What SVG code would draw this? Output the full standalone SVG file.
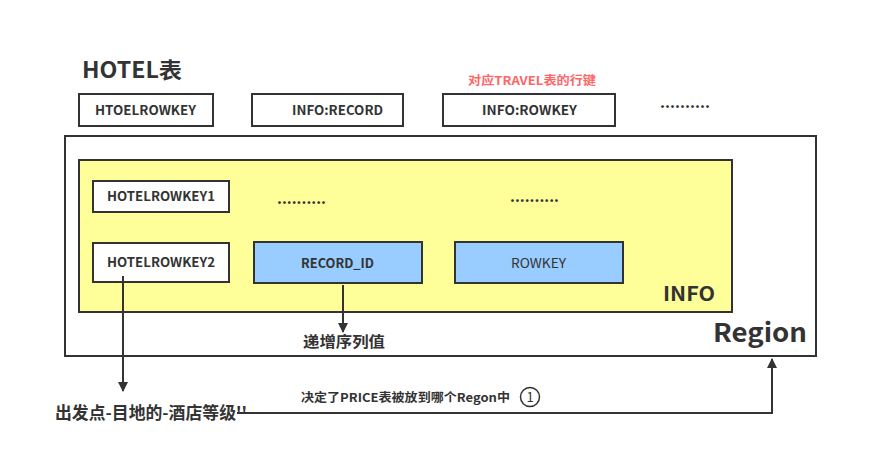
<svg xmlns="http://www.w3.org/2000/svg" width="872" height="457" viewBox="0 0 872 457">
  <defs>
    <style>
      .box { fill: #ffffff; stroke: #333333; stroke-width: 2; }
      .blue { fill: #99ccff; stroke: #333333; stroke-width: 2; }
      .yellow { fill: #ffff99; stroke: #333333; stroke-width: 2; }
      .t { font-family: "Noto Sans CJK SC", "Liberation Sans", sans-serif; fill: #333333; font-weight: bold; }
      .lbl { font-size: 13px; }
      .dots { font-size: 15px; letter-spacing: 0; }
      .edge { fill: none; stroke: #333333; stroke-width: 2; }
    </style>
    <marker id="arrow" viewBox="0 0 10 10" refX="9" refY="5" markerWidth="5" markerHeight="6" orient="auto">
      <path d="M0,0 L10,5 L0,10 z" fill="#333333"/>
    </marker>
  </defs>
  <rect width="872" height="457" fill="#ffffff"/>

  <text class="t" x="82" y="78" font-size="22" textLength="100" lengthAdjust="spacingAndGlyphs">HOTEL表</text>

  <g id="col-rowkey">
    <rect class="box" x="79" y="94" width="134" height="32"/>
    <text class="t lbl" x="95" y="115" textLength="101" lengthAdjust="spacingAndGlyphs">HTOELROWKEY</text>
  </g>
  <g id="col-record">
    <rect class="box" x="252" y="94" width="151" height="32"/>
    <text class="t lbl" x="292" y="115" textLength="91" lengthAdjust="spacingAndGlyphs">INFO:RECORD</text>
  </g>
  <g id="col-info-rowkey">
    <text class="t" x="468" y="85" font-size="12" textLength="128" lengthAdjust="spacingAndGlyphs" style="fill:#ff6666">对应TRAVEL表的行键</text>
    <rect class="box" x="443" y="94" width="172" height="32"/>
    <text class="t lbl" x="482" y="115" textLength="95" lengthAdjust="spacingAndGlyphs">INFO:ROWKEY</text>
  </g>
  <g id="col-more">
    <text class="t dots" x="660" y="108" textLength="50" lengthAdjust="spacingAndGlyphs">..........</text>
  </g>

  <g id="region">
    <rect class="box" x="65" y="136" width="751" height="220"/>
    <text class="t" x="713" y="342" font-size="26" textLength="94" lengthAdjust="spacingAndGlyphs">Region</text>
  </g>

  <g id="info">
    <rect class="yellow" x="79" y="160" width="653" height="152"/>
    <text class="t" x="663" y="301" font-size="20" textLength="52" lengthAdjust="spacingAndGlyphs">INFO</text>
  </g>

  <g id="hotelrowkey1">
    <rect class="box" x="93" y="181" width="136" height="31"/>
    <text class="t lbl" x="107" y="201" textLength="108" lengthAdjust="spacingAndGlyphs">HOTELROWKEY1</text>
  </g>
  <g id="dots1">
    <text class="t dots" x="277" y="204" textLength="49" lengthAdjust="spacingAndGlyphs">..........</text>
  </g>
  <g id="dots2">
    <text class="t dots" x="510" y="202" textLength="49" lengthAdjust="spacingAndGlyphs">..........</text>
  </g>

  <g id="hotelrowkey2">
    <rect class="box" x="93" y="243" width="136" height="39"/>
    <text class="t lbl" x="107" y="267" textLength="108" lengthAdjust="spacingAndGlyphs">HOTELROWKEY2</text>
  </g>
  <g id="record-id">
    <rect class="blue" x="254" y="242" width="168" height="41"/>
    <text class="t lbl" x="301" y="268" textLength="73" lengthAdjust="spacingAndGlyphs">RECORD_ID</text>
  </g>
  <g id="rowkey">
    <rect class="blue" x="455" y="242" width="168" height="41"/>
    <text class="t lbl" x="511" y="268" textLength="55" lengthAdjust="spacingAndGlyphs" style="font-weight:normal">ROWKEY</text>
  </g>

  <g id="seq-label">
    <text class="t" x="303" y="347" font-size="15" textLength="82" lengthAdjust="spacingAndGlyphs">递增序列值</text>
  </g>
  <g id="hotel-key-label">
    <text class="t" x="55" y="419" font-size="17" textLength="192" lengthAdjust="spacingAndGlyphs">出发点-目地的-酒店等级''</text>
  </g>
  <g id="price-label">
    <text class="t" x="301" y="402" font-size="12" textLength="209" lengthAdjust="spacingAndGlyphs">决定了PRICE表被放到哪个Regon中</text>
    <circle cx="530" cy="397" r="9.5" fill="#ffffff" stroke="#333333" stroke-width="1.5"/>
    <text x="530" y="402" font-size="13" text-anchor="middle" font-family="Noto Sans CJK SC, sans-serif" fill="#333333">1</text>
  </g>

  <g id="connectors">
    <path class="edge" d="M123,276 L123,391" marker-end="url(#arrow)"/>
    <path class="edge" d="M343,285 L343,332" marker-end="url(#arrow)"/>
    <path class="edge" d="M237,413 L772,413 L772,359" marker-end="url(#arrow)"/>
  </g>
</svg>
